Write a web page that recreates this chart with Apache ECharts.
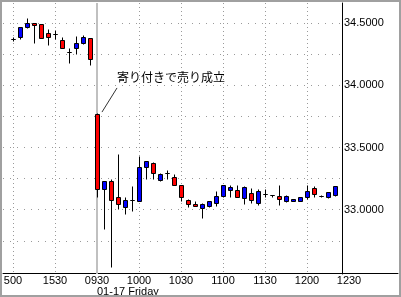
<!DOCTYPE html>
<html><head><meta charset="utf-8">
<script src="https://cdn.jsdelivr.net/npm/echarts@6/dist/echarts.min.js"></script>
<style>html,body{margin:0;padding:0;background:#fff}#c{width:401px;height:297px}</style>
</head><body><div id="c"></div>
<script>
// 5-minute bars: previous day 1500-1555, then 01-17 from 0930
const candleTimes = ['1500','1505','1510','1515','1520','1525','1530','1535','1540','1545','1550','1555',
  '0930','0935','0940','0945','0950','0955','1000','1005','1010','1015','1020','1025',
  '1030','1035','1040','1045','1050','1055','1100','1105','1110','1115','1120','1125',
  '1130','1135','1140','1145','1150','1155','1200','1205','1210','1215','1220'];
const openVals  = [34.372,34.386,34.466,34.498,34.490,34.418,34.410,34.362,34.265,34.297,34.338,34.378,
  33.769,33.164,33.231,33.100,33.024,33.080,33.072,33.346,33.375,33.241,33.295,33.265,
  33.199,33.076,33.043,33.016,33.027,33.051,33.113,33.158,33.156,33.096,33.138,33.051,
  33.126,33.118,33.110,33.068,33.070,33.072,33.100,33.172,33.110,33.105,33.118];
const closeVals = [34.372,34.466,34.498,34.482,34.378,34.386,34.410,34.297,34.265,34.338,34.386,34.209,
  33.164,33.231,33.078,33.043,33.078,33.080,33.346,33.394,33.293,33.287,33.295,33.196,
  33.105,33.043,33.027,33.043,33.070,33.108,33.196,33.180,33.100,33.180,33.076,33.153,
  33.126,33.118,33.084,33.108,33.086,33.100,33.148,33.124,33.110,33.140,33.191];
const lowVals   = [34.356,34.375,34.458,34.342,34.378,34.326,34.370,34.297,34.177,34.249,34.330,34.161,
  33.105,32.842,32.542,33.003,32.963,32.992,33.072,33.244,33.244,33.233,33.249,33.196,
  33.072,33.019,33.027,32.936,33.019,33.032,33.105,33.105,33.100,33.043,33.051,33.040,
  33.105,33.100,33.038,33.062,33.070,33.072,33.086,33.105,33.102,33.092,33.110];
const highVals  = [34.388,34.466,34.541,34.498,34.490,34.450,34.445,34.386,34.297,34.396,34.402,34.378,
  33.777,33.231,33.247,33.448,33.100,33.191,33.432,33.394,33.386,33.297,33.319,33.287,
  33.199,33.084,33.072,33.056,33.070,33.150,33.196,33.199,33.196,33.191,33.172,33.164,
  33.164,33.118,33.199,33.118,33.086,33.100,33.196,33.191,33.118,33.145,33.191];
const tickLabels = ['500','1530','0930','1000','1030','1100','1130','1200','1230'];
const tickIndex  = [0,6,12,18,24,30,36,42,48];
const sessionStart = 12;
const dateLabel = '01-17 Friday';
const annotationText = '寄り付きで売り成立';
const yLabelValues = [33, 33.5, 34, 34.5];
const yGridValues = [32.75, 33, 33.25, 33.5, 33.75, 34, 34.25, 34.5];

const FONT = 'Liberation Sans, Arial, sans-serif';
const xMin = -10/7, xMax = 47, xMaxWide = 55;
const yMin = 32.483, yMax = 34.662;

const data = candleTimes.map((t, i) => [i, openVals[i], closeVals[i], lowVals[i], highVals[i]]);

function renderCandle(params, api) {
  const i = api.value(0), o = api.value(1), c = api.value(2), l = api.value(3), h = api.value(4);
  const po = api.coord([i, o]), pc = api.coord([i, c]), pl = api.coord([i, l]), ph = api.coord([i, h]);
  const xc = Math.round(po[0]) + 0.5;
  const snap = y => Math.round(y) + 0.5;
  const yTop = snap(Math.min(po[1], pc[1])), yBot = snap(Math.max(po[1], pc[1]));
  const color = c > o ? '#0000ff' : (c < o ? '#ff0000' : '#000000');
  return {type: 'group', children: [
    {type: 'line', shape: {x1: xc, y1: snap(ph[1]), x2: xc, y2: snap(pl[1])}, style: {stroke: '#000', lineWidth: 1}},
    {type: 'rect', shape: {x: xc - 2, y: yTop, width: 4, height: yBot - yTop}, style: {fill: color, stroke: '#000', lineWidth: 1}}
  ]};
}

const chart = echarts.init(document.getElementById('c'), null, {renderer: 'canvas'});
chart.setOption({
  animation: false,
  backgroundColor: '#ffffff',
  grid: [
    {left: 3, right: 59, top: 3, bottom: 23},
    {left: 3, right: 3, top: 3, bottom: 23}
  ],
  xAxis: [
    {gridIndex: 0, type: 'value', min: xMin, max: xMax, position: 'bottom',
     axisLine: {show: false, onZero: false}, axisLabel: {show: false},
     axisTick: {show: false, customValues: tickIndex.filter(v => v !== sessionStart)},
     splitLine: {show: true, lineStyle: {color: '#9a9a9a', width: 1, type: [1, 3]}}},
    {gridIndex: 1, type: 'value', min: xMin, max: xMaxWide, position: 'bottom',
     axisLine: {show: true, onZero: false, lineStyle: {color: '#000', width: 1}},
     axisTick: {show: false},
     splitLine: {show: false},
     axisLabel: {show: true, customValues: tickIndex, margin: 2, color: '#000', fontSize: 11, fontFamily: FONT,
       formatter: v => tickLabels[tickIndex.indexOf(Math.round(v))] || ''}},
    {gridIndex: 1, type: 'value', min: xMin, max: xMaxWide, position: 'bottom',
     axisLine: {show: false, onZero: false}, axisTick: {show: false}, splitLine: {show: false},
     axisLabel: {show: true, customValues: [sessionStart], margin: 13, align: 'left', color: '#000', fontSize: 11, fontFamily: FONT,
       formatter: () => dateLabel}}
  ],
  yAxis: [
    {gridIndex: 0, type: 'value', min: yMin, max: yMax, position: 'right',
     axisLine: {show: true, onZero: false, lineStyle: {color: '#000', width: 1}},
     axisTick: {show: false, customValues: yGridValues},
     axisLabel: {show: true, customValues: yLabelValues, margin: 2, color: '#000', fontSize: 11, fontFamily: FONT,
       formatter: v => Number(v).toFixed(4)},
     splitLine: {show: true, lineStyle: {color: '#9a9a9a', width: 1, type: [1, 6]}}},
    {gridIndex: 1, type: 'value', min: yMin, max: yMax, show: false, axisLine: {onZero: false}}
  ],
  graphic: [
    {type: 'rect', shape: {x: 1, y: 1, width: 399, height: 295}, style: {fill: 'none', stroke: '#a0a0a0', lineWidth: 2}, z: 100}
  ],
  series: [
    {type: 'custom', xAxisIndex: 0, yAxisIndex: 0, z: 1, data: [],
     renderItem: () => null,
     markLine: {silent: true, symbol: 'none', z: 1, animation: false,
       label: {show: false},
       lineStyle: {color: '#c0c0c0', width: 2, type: 'solid'},
       data: [{xAxis: sessionStart}]}},
    {type: 'custom', xAxisIndex: 0, yAxisIndex: 0, z: 3, clip: true,
     encode: {x: 0, y: [1, 2, 3, 4]},
     data: data,
     renderItem: renderCandle,
     markLine: {silent: true, symbol: 'none', animation: false,
       label: {show: false},
       lineStyle: {color: '#333', width: 1, type: 'solid'},
       data: [[{coord: [12.71, 33.785]}, {coord: [14.86, 33.979]}]]},
     markPoint: {silent: true, animation: false,
       data: [{coord: [14.86, 34.063], symbol: 'circle', symbolSize: 0,
         label: {show: true, position: 'right', distance: 0, formatter: annotationText,
           fontFamily: 'Noto Sans CJK JP', fontSize: 12, color: '#000'}}]}}
  ]
});
</script>
</body></html>
